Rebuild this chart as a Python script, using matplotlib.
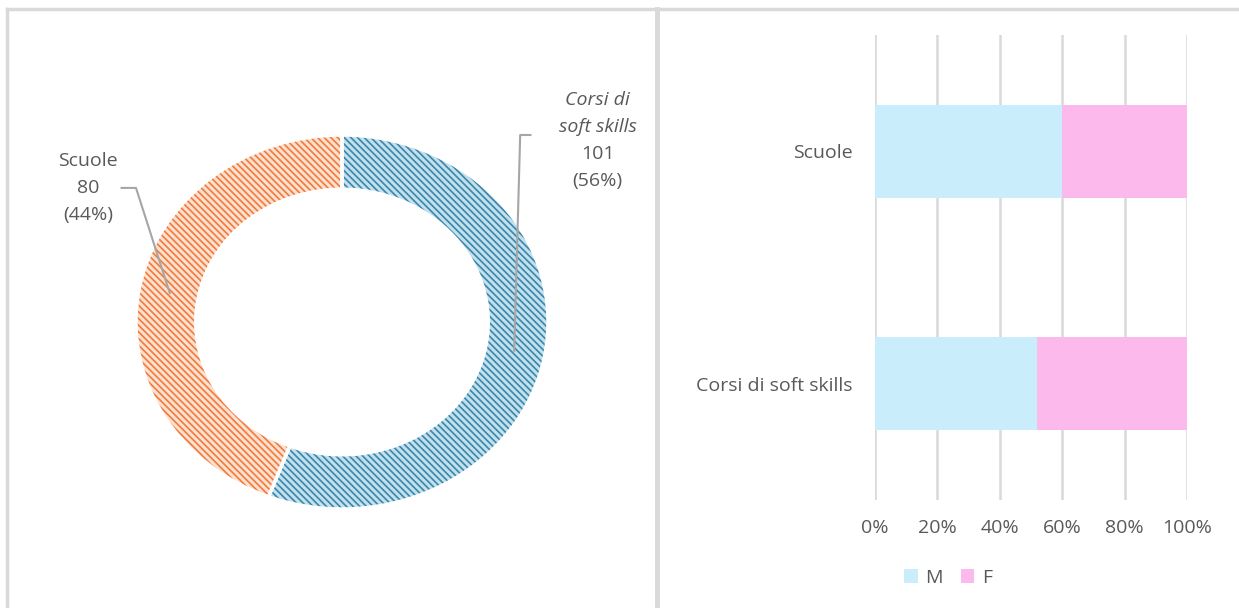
import matplotlib.pyplot as plt
from matplotlib.lines import Line2D
import numpy as np

# donut data
donut_labels = ["Corsi di\nsoft skills", "Scuole"]
donut_values = [101, 80]
donut_italic = [True, False]

# stacked bar data (share of M / F)
bar_cats = ["Corsi di soft skills", "Scuole"]
m_share = [0.52, 0.60]
f_share = [0.48, 0.40]

plt.rcParams['font.family'] = ['Open Sans', 'DejaVu Sans']
txt = "#595959"
grid = "#d9d9d9"
fs = 14

W, H = 1239, 608
fig = plt.figure(figsize=(W / 100, H / 100), dpi=100)

def px_rect(x0, y0, w, h):
    # pixel box (top-left origin) -> figure fraction
    return [x0 / W, 1 - (y0 + h) / H, w / W, h / H]

# panel borders
for xs, ys, lw in [([7, W], [9, 9], 2.5), ([7, 7], [9, H], 2.5), ([657, 657], [9, H], 3.5)]:
    fig.add_artist(Line2D([x / W for x in xs], [1 - y / H for y in ys], color="#d9d9d9", lw=lw))

# ---- donut ----
cx, cy, rx, ry = 342, 322, 206, 187
ax1 = fig.add_axes(px_rect(cx - rx, cy - ry, 2 * rx, 2 * ry))
ax1.axis("off")

faces = ["#c2e0ed", "#fde0cf"]
hatches = ["#3a86aa", "#f07a3a"]
plt.rcParams['hatch.linewidth'] = 1.2
wedges, _ = ax1.pie(donut_values, radius=1, startangle=90, counterclock=False,
                    colors=faces, wedgeprops=dict(width=0.29, linewidth=0))
for w, hc in zip(wedges, hatches):
    w.set_hatch("\\" * 5)
    w.set_edgecolor(hc)
    w.set_linewidth(0)
# white separators on top
ax1.pie(donut_values, radius=1, startangle=90, counterclock=False,
        colors=["none", "none"], wedgeprops=dict(width=0.29, linewidth=2.5, edgecolor="white"))
ax1.set_aspect("auto")
ax1.set_xlim(-1, 1)
ax1.set_ylim(-1, 1)

total = sum(donut_values)
label_pos = [(1.24, 0.97), (-1.233, 0.717)]
elbow = [(0.865, 1.0), (-1.0, 0.717)]
start = 90
for i, v in enumerate(donut_values):
    ang = start - 360 * v / total / 2
    start -= 360 * v / total
    r = 0.85
    px, py = r * np.cos(np.radians(ang)), r * np.sin(np.radians(ang))
    lx, ly = label_pos[i]
    ex, ey = elbow[i]
    hx = ex + (0.05 if lx > 0 else -0.07)
    ax1.plot([hx, ex, px], [ey, ey, py], color="#a6a6a6", lw=1.5, clip_on=False)
    pct = "{:d}\n({:.0f}%)".format(v, 100 * v / total)
    name = donut_labels[i]
    nlines = name.count("\n") + 1
    lines = (name + "\n" + pct).split("\n")
    step = 27 / ry
    y0 = ly + step * (len(lines) - 1) / 2
    for j, line in enumerate(lines):
        ax1.text(lx, y0 - j * step, line, ha="center", va="center", fontsize=fs, color=txt,
                 style="italic" if (j < nlines and donut_italic[i]) else "normal", clip_on=False)

# ---- stacked bars ----
ax2 = fig.add_axes(px_rect(875, 35, 312, 465))
y = np.arange(len(bar_cats))
ax2.barh(y, m_share, height=0.4, color="#caedfb", label="M", zorder=2)
ax2.barh(y, f_share, left=m_share, height=0.4, color="#fbbaeb", label="F", zorder=2)
ax2.set_xlim(0, 1)
ax2.set_ylim(-0.5, 1.5)
ticks = np.linspace(0, 1, 6)
ax2.set_xticks(ticks)
ax2.set_xticklabels(["{:.0%}".format(t) for t in ticks])
ax2.set_yticks(y)
ax2.set_yticklabels(bar_cats)
ax2.grid(axis="x", color=grid, lw=1.8, zorder=0)
ax2.tick_params(axis="both", length=0, labelsize=fs, labelcolor=txt)
ax2.tick_params(axis="x", pad=14)
ax2.tick_params(axis="y", pad=16)
for s in ax2.spines.values():
    s.set_visible(False)
ax2.legend(loc="center", bbox_to_anchor=(948 / W, 1 - 578 / H), bbox_transform=fig.transFigure,
           ncol=2, frameon=False, fontsize=fs, labelcolor=txt, handlelength=0.7, handleheight=0.7,
           handletextpad=0.4, columnspacing=0.9)

plt.savefig("out.png", dpi=100)
